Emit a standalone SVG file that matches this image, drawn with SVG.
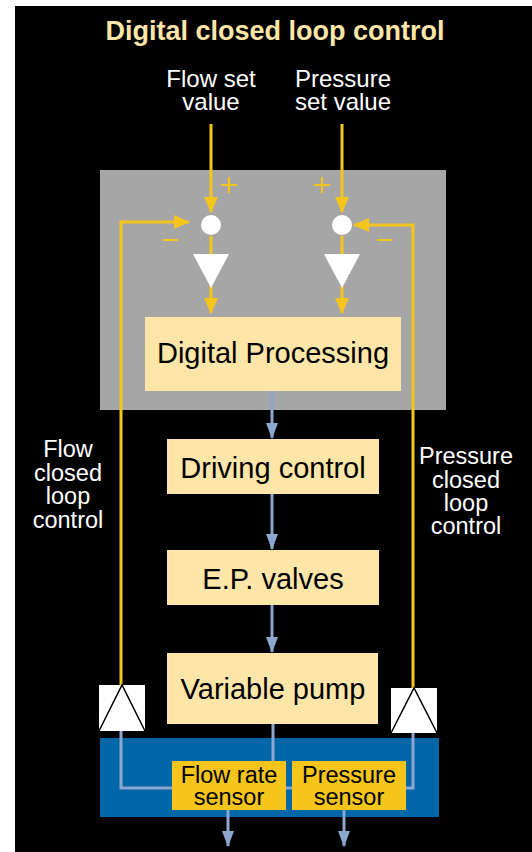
<svg xmlns="http://www.w3.org/2000/svg" width="532" height="852" viewBox="0 0 532 852">
<style>
text{font-family:"Liberation Sans",Arial,sans-serif;text-anchor:middle}
.title{font-size:27px;font-weight:bold;fill:#fde6a8}
.lbl{font-size:24px;fill:#ffffff}
.side{font-size:23.5px;fill:#ffffff}
.box{fill:#fde6a8}
.boxt{font-size:29px;fill:#000}
.sens{fill:#f5c51c}
.senst{font-size:23.5px;fill:#000}
.yl{stroke:#f5c51c;stroke-width:3;fill:none}
.bl{stroke:#8da6cf;stroke-width:3;fill:none}
.sign{stroke:#f5c51c;stroke-width:2;fill:none}
</style>
<defs>
<marker id="ay" markerUnits="userSpaceOnUse" markerWidth="16" markerHeight="16" viewBox="0 0 16 16" refX="15" refY="8" orient="auto">
<path d="M0,1 L16,8 L0,15 Z" fill="#f5c51c"/>
</marker>
<marker id="ab" markerUnits="userSpaceOnUse" markerWidth="16" markerHeight="14" viewBox="0 0 16 14" refX="15" refY="7" orient="auto">
<path d="M0,1 L16,7 L0,13 Z" fill="#8da6cf"/>
</marker>
</defs>
<rect x="0" y="0" width="532" height="852" fill="#ffffff"/>
<rect x="15" y="6" width="517" height="846" fill="#000000"/>
<text class="title" x="275" y="40">Digital closed loop control</text>
<g id="flow-set"><text class="lbl" x="211" y="87">Flow set</text><text class="lbl" x="211" y="110">value</text></g>
<g id="pressure-set"><text class="lbl" x="343" y="87">Pressure</text><text class="lbl" x="343" y="110">set value</text></g>
<g id="controller"><rect x="100" y="170" width="346" height="240" fill="#a6a6a6"/></g>
<g id="flow-loop-label"><text class="side" x="68" y="457">Flow</text><text class="side" x="68" y="481">closed</text><text class="side" x="68" y="504">loop</text><text class="side" x="68" y="528">control</text></g>
<g id="pressure-loop-label"><text class="side" x="466" y="464">Pressure</text><text class="side" x="466" y="488">closed</text><text class="side" x="466" y="511">loop</text><text class="side" x="466" y="534">control</text></g>
<g id="blue-area"><rect x="100" y="738" width="339" height="79" fill="#0066a8"/></g>
<g id="connectors">
<path class="yl" d="M211,124 V212" marker-end="url(#ay)"/>
<path class="yl" d="M342,124 V212" marker-end="url(#ay)"/>
<path class="yl" d="M121,686 V222 H189" marker-end="url(#ay)"/>
<path class="yl" d="M413,689 V225 H354" marker-end="url(#ay)"/>
<path class="yl" d="M211,236 V256"/>
<path class="yl" d="M342,236 V256"/>
<path class="yl" d="M211,286 V313" marker-end="url(#ay)"/>
<path class="yl" d="M342,286 V313" marker-end="url(#ay)"/>
<path class="bl" d="M272,391 V438" marker-end="url(#ab)"/>
<path class="bl" d="M272,494 V549" marker-end="url(#ab)"/>
<path class="bl" d="M272,605 V652" marker-end="url(#ab)"/>
<path class="bl" d="M273,724 V761"/>
<path class="bl" d="M121,731 V788 H172"/>
<path class="bl" d="M413,733 V788 H406"/>
<path class="bl" d="M286,788 H292"/>
<path class="bl" d="M228,810 V846" marker-end="url(#ab)"/>
<path class="bl" d="M344,810 V846" marker-end="url(#ab)"/>
<path class="sign" d="M221,185 H237 M229,177 V193"/>
<path class="sign" d="M314,185 H330 M322,177 V193"/>
<path class="sign" d="M163,240 H178"/>
<path class="sign" d="M377,240 H392"/>
</g>
<g id="sum-flow"><circle cx="211" cy="225" r="10" fill="#ffffff"/></g>
<g id="sum-pressure"><circle cx="342" cy="225" r="10" fill="#ffffff"/></g>
<g id="amp-flow"><polygon points="193,254 229,254 211,288" fill="#ffffff"/></g>
<g id="amp-pressure"><polygon points="324,254 360,254 342,288" fill="#ffffff"/></g>
<g id="digital-processing"><rect class="box" x="145" y="317" width="256" height="74"/><text class="boxt" x="273" y="363">Digital Processing</text></g>
<g id="driving-control"><rect class="box" x="167" y="439" width="212" height="55"/><text class="boxt" x="273" y="478">Driving control</text></g>
<g id="ep-valves"><rect class="box" x="167" y="550" width="212" height="55"/><text class="boxt" x="273" y="589">E.P. valves</text></g>
<g id="variable-pump"><rect class="box" x="167" y="653" width="211" height="71"/><text class="boxt" x="273" y="699">Variable pump</text></g>
<g id="amp-flow-feedback"><rect x="99" y="685" width="46" height="46" fill="#ffffff"/><polyline points="99,731 122,685 145,731" fill="none" stroke="#000" stroke-width="1.5"/></g>
<g id="amp-pressure-feedback"><rect x="391" y="688" width="46" height="45" fill="#ffffff"/><polyline points="391,733 414,688 437,733" fill="none" stroke="#000" stroke-width="1.5"/></g>
<g id="flow-rate-sensor"><rect class="sens" x="172" y="761" width="114" height="49"/><text class="senst" x="229" y="783">Flow rate</text><text class="senst" x="229" y="805">sensor</text></g>
<g id="pressure-sensor"><rect class="sens" x="292" y="761" width="114" height="49"/><text class="senst" x="349" y="783">Pressure</text><text class="senst" x="349" y="805">sensor</text></g>
</svg>
